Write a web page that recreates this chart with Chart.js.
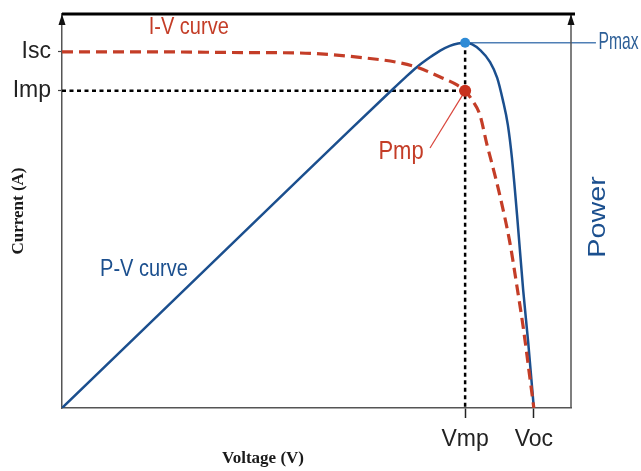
<!DOCTYPE html>
<html lang="en">
<head>
  <meta charset="UTF-8" />
  <title>I-V and P-V curves</title>
  <script src="https://cdn.jsdelivr.net/npm/chart.js"></script>
  <style>
    html, body { margin: 0; padding: 0; background: #fff; }
    #wrap { width: 641px; height: 471px; position: relative; }
  </style>
</head>
<body>
  <div id="wrap"><canvas id="pvChart"></canvas></div>

  <script>
    // voltage runs 0..100 and current / power 0..10, arbitrary units
    const Vmp = 79.2;
    const Voc = 92.7;
    const Isc = 9.04;
    const Imp = 8.05;
    const Pmax = 9.27;

    const ivVoltage = [0, 17.3, 36.9, 46.8, 59.9, 66.4, 69.7, 74.3, 77.6, 79.2, 80.7, 82.1, 83.5, 84.7, 86.0, 88.0, 89.4, 90.6, 91.9, 92.7];
    const ivCurrent = [9.04, 9.04, 9.02, 9.01, 8.88, 8.76, 8.65, 8.40, 8.20, 8.05, 7.79, 7.44, 6.68, 6.09, 5.41, 4.19, 3.07, 2.06, 0.79, 0];

    const pvVoltage = [0, 46.8, 56.6, 64.4, 67.2, 69.7, 72.3, 74.3, 76.2, 77.8, 79.2, 80.6, 82.1, 84.1, 85.5, 86.6, 87.6, 88.4, 89.4, 90.6, 91.6, 92.7];
    const pvPower = [0, 5.84, 7.06, 8.02, 8.36, 8.65, 8.90, 9.07, 9.19, 9.25, 9.27, 9.23, 9.09, 8.78, 8.38, 7.82, 7.18, 6.34, 4.90, 3.00, 1.65, 0];

    const xTickValues = [Vmp, Voc];
    const xTickLabels = ['Vmp', 'Voc'];
    const yTickValues = [Isc, Imp];
    const yTickLabels = ['Isc', 'Imp'];

    const toPoints = (xs, ys) => xs.map((v, i) => ({ x: v, y: ys[i] }));

    const sans = '"Liberation Sans", Arial, sans-serif';
    const narrow = '"Liberation Sans Narrow", "Arial Narrow", "Liberation Sans", Arial, sans-serif';
    const serif = '"Liberation Serif", "Times New Roman", serif';
    const red = '#c43d27';
    const blue = '#1b4f8e';

    // the source figure is stretched a little vertically, so text is scaled to match
    function drawText(ctx, text, px, py, sx, sy) {
      ctx.save();
      ctx.translate(px, py);
      ctx.scale(sx, sy);
      ctx.fillText(text, 0, 0);
      ctx.restore();
    }

    // frame, arrows and the text notes
    const notes = {
      id: 'notes',
      afterDraw(chart) {
        const { ctx, chartArea: a, scales: { x, y } } = chart;
        ctx.save();

        ctx.strokeStyle = '#555';
        ctx.lineWidth = 1.5;
        ctx.beginPath();
        ctx.moveTo(a.right, a.bottom);
        ctx.lineTo(a.right, a.top);
        ctx.stroke();

        ctx.strokeStyle = '#000';
        ctx.lineWidth = 3;
        ctx.beginPath();
        ctx.moveTo(a.left, a.top);
        ctx.lineTo(a.right + 4, a.top);
        ctx.stroke();

        ctx.fillStyle = '#111';
        [a.left, a.right].forEach(px => {
          ctx.beginPath();
          ctx.moveTo(px, a.top);
          ctx.lineTo(px - 3.5, a.top + 11);
          ctx.lineTo(px + 3.5, a.top + 11);
          ctx.closePath();
          ctx.fill();
        });

        ctx.textBaseline = 'middle';
        ctx.textAlign = 'center';
        ctx.font = '20px ' + sans;
        ctx.fillStyle = red;
        drawText(ctx, 'I-V curve', x.getPixelForValue(24.9), y.getPixelForValue(9.66), 1, 1.2);
        ctx.font = '22px ' + sans;
        drawText(ctx, 'Pmp', x.getPixelForValue(66.6), y.getPixelForValue(6.5), 1, 1.15);

        ctx.font = '20px ' + sans;
        ctx.fillStyle = blue;
        drawText(ctx, 'P-V curve', x.getPixelForValue(16.1), y.getPixelForValue(3.52), 1, 1.2);

        ctx.textAlign = 'left';
        ctx.font = '20px ' + narrow;
        ctx.fillStyle = '#2d5f97';
        const pmaxFit = 40 / ctx.measureText('Pmax').width;
        drawText(ctx, 'Pmax', x.getPixelForValue(105.4), y.getPixelForValue(Pmax), pmaxFit, 1.2);

        ctx.save();
        ctx.translate(a.right + 27, (a.top + a.bottom) / 2 + 6);
        ctx.rotate(-Math.PI / 2);
        ctx.textAlign = 'center';
        ctx.font = '24px ' + sans;
        ctx.fillStyle = blue;
        drawText(ctx, 'Power', 0, 0, 1.2, 1);
        ctx.restore();

        ctx.textAlign = 'center';
        ctx.font = 'bold 17px ' + serif;
        ctx.fillStyle = '#1a1a1a';
        ctx.fillText('Voltage (V)', a.left + 201, a.bottom + 51);

        ctx.restore();
      }
    };

    new Chart(document.getElementById('pvChart'), {
      type: 'scatter',
      data: {
        datasets: [
          {
            data: [{ x: Vmp, y: Pmax }],
            pointRadius: 5,
            pointBackgroundColor: '#2e8bd6',
            pointBorderWidth: 0,
            order: 0
          },
          {
            data: [{ x: Vmp, y: Imp }],
            pointRadius: 6,
            pointBackgroundColor: '#c8321e',
            pointBorderWidth: 0,
            order: 0
          },
          {
            data: toPoints(ivVoltage, ivCurrent),
            showLine: true,
            cubicInterpolationMode: 'monotone',
            borderColor: red,
            borderWidth: 3.2,
            borderDash: [11, 6],
            pointRadius: 0,
            order: 1
          },
          {
            data: toPoints(pvVoltage, pvPower),
            showLine: true,
            cubicInterpolationMode: 'monotone',
            borderColor: blue,
            borderWidth: 2.5,
            pointRadius: 0,
            order: 2
          },
          {
            data: [{ x: 0, y: Imp }, { x: Vmp, y: Imp }],
            showLine: true,
            borderColor: '#000',
            borderWidth: 2.5,
            borderDash: [4, 3.5],
            pointRadius: 0,
            order: 3
          },
          {
            data: [{ x: Vmp, y: Pmax }, { x: Vmp, y: 0 }],
            showLine: true,
            borderColor: '#000',
            borderWidth: 2.5,
            borderDash: [4, 3.5],
            pointRadius: 0,
            order: 3
          },
          {
            data: [{ x: Vmp, y: Pmax }, { x: 104.9, y: Pmax }],
            showLine: true,
            clip: false,
            borderColor: '#4f7fb5',
            borderWidth: 1.5,
            pointRadius: 0,
            order: 4
          },
          {
            data: [{ x: Vmp, y: Imp }, { x: 72.3, y: 6.6 }],
            showLine: true,
            borderColor: '#d9453b',
            borderWidth: 1.2,
            pointRadius: 0,
            order: 4
          }
        ]
      },
      options: {
        responsive: true,
        maintainAspectRatio: false,
        animation: false,
        layout: { padding: { top: 14, right: 70, left: 0, bottom: 0 } },
        plugins: {
          legend: { display: false },
          tooltip: { enabled: false }
        },
        scales: {
          x: {
            type: 'linear',
            min: 0,
            max: 100,
            afterFit(scale) {
              scale.height = 63;
              scale.paddingLeft = 0;
              scale.paddingRight = 0;
            },
            afterBuildTicks(scale) { scale.ticks = xTickValues.map(v => ({ value: v })); },
            ticks: {
              callback: (val, i) => xTickLabels[i],
              font: { family: narrow, size: 23 },
              color: '#222',
              padding: 8,
              maxRotation: 0,
              autoSkip: false
            },
            grid: { drawOnChartArea: false, tickLength: 10, tickColor: '#222', tickWidth: 1.5 },
            border: { color: '#555', width: 1.5 }
          },
          y: {
            type: 'linear',
            min: 0,
            max: 10,
            afterFit(scale) {
              scale.width = 62;
              scale.paddingTop = 0;
              scale.paddingBottom = 0;
            },
            afterBuildTicks(scale) { scale.ticks = yTickValues.map(v => ({ value: v })); },
            ticks: {
              callback: (val, i) => yTickLabels[i],
              font: { family: narrow, size: 23 },
              color: '#222',
              padding: 7,
              autoSkip: false
            },
            grid: { drawOnChartArea: false, tickLength: 4, tickColor: '#444', tickWidth: 1.2 },
            border: { color: '#555', width: 1.5 },
            title: {
              display: true,
              text: 'Current (A)',
              font: { family: serif, size: 17, weight: 'bold' },
              color: '#1a1a1a',
              padding: { top: 8 }
            }
          }
        }
      },
      plugins: [notes]
    });
  </script>
</body>
</html>
